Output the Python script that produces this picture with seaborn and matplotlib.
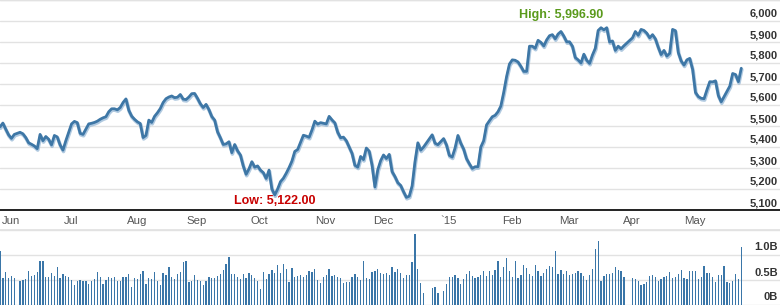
import numpy as np
import pandas as pd
import matplotlib
matplotlib.use("Agg")
import matplotlib.pyplot as plt
import matplotlib.transforms as mtransforms
import matplotlib.patheffects as pe
import seaborn as sns

# ---------------- data ----------------
start_date = "2014-05-30"
n_slots = 260
closed_slots = [6, 149, 150, 154, 219, 220]   # market holidays (no trade)

close = [5496, 5514, 5485, 5458, 5441, 5460, None, 5470, 5463, 5445,
         5420, 5413, 5405, 5392, 5460, 5430, 5450, 5437, 5410, 5455,
         5448, 5410, 5385, 5430, 5470, 5510, 5522, 5516, 5465, 5460,
         5485, 5510, 5513, 5517, 5523, 5532, 5539, 5544, 5568, 5582,
         5582, 5577, 5588, 5612, 5629, 5575, 5547, 5532, 5520, 5512,
         5445, 5455, 5528, 5517, 5546, 5563, 5583, 5612, 5630, 5638,
         5643, 5635, 5637, 5650, 5628, 5626, 5638, 5654, 5655, 5632,
         5606, 5588, 5603, 5578, 5545, 5528, 5473, 5444, 5412, 5415,
         5425, 5373, 5412, 5382, 5362, 5310, 5270, 5296, 5330, 5304,
         5310, 5290, 5278, 5250, 5290, 5200, 5172, 5200, 5235, 5251,
         5275, 5302, 5333, 5379, 5388, 5422, 5456, 5452, 5446, 5481,
         5523, 5509, 5516, 5513, 5510, 5546, 5529, 5515, 5470, 5444,
         5447, 5430, 5400, 5370, 5313, 5304, 5355, 5340, 5395, 5380,
         5314, 5210, 5292, 5335, 5362, 5345, 5365, 5283, 5259, 5230,
         5217, 5187, 5160, 5166, 5215, 5330, 5420, 5385, 5400, None,
         None, 5458, 5418, 5411, None, 5440, 5410, 5360, 5352, 5395,
         5455, 5418, 5390, 5345, 5320, 5298, 5306, 5306, 5400, 5430,
         5505, 5525, 5544, 5551, 5568, 5595, 5660, 5735, 5795, 5815,
         5813, 5805, 5784, 5760, 5760, 5880, 5880, 5870, 5908, 5898,
         5881, 5910, 5930, 5935, 5915, 5938, 5950, 5928, 5901, 5901,
         5880, 5826, 5815, 5800, 5842, 5813, 5798, 5838, 5870, 5955,
         5968, 5958, 5968, 5900, 5905, 5860, 5880, 5868, 5882, None,
         None, 5920, 5950, 5932, 5960, 5955, 5942, 5920, 5935, 5915,
         5875, 5840, 5860, 5833, 5846, 5960, 5954, 5850, 5810, 5790,
         5815, 5822, 5770, 5660, 5640, 5632, 5630, 5672, 5711, 5710,
         5715, 5645, 5615, 5640, 5665, 5690, 5750, 5745, 5711, 5775]

volume_b = [1.07, 0.54, 0.66, 0.54, 0.58, 0.54, None, 0.48, 0.50, 0.52,
            0.68, 0.58, 0.60, 0.66, 0.88, 0.88, 0.56, 0.56, 0.64, 0.58,
            0.76, 0.54, 0.62, 0.58, 0.56, 0.50, 0.40, 0.48, 0.50, 0.48,
            0.48, 0.42, 0.48, 0.52, 0.66, 0.56, 0.42, 0.50, 0.56, 0.54,
            0.56, 0.48, 0.48, 0.56, 0.56, 0.62, 0.36, 0.54, 0.52, 0.62,
            0.68, 0.42, 0.54, 0.52, 0.66, 0.48, 0.40, 0.64, 0.60, 0.76,
            0.56, 0.52, 0.62, 0.66, 0.86, 0.88, 0.46, 0.48, 0.60, 0.50,
            0.48, 0.40, 0.48, 0.56, 0.54, 0.54, 0.58, 0.62, 0.70, 0.82,
            0.96, 0.62, 0.62, 0.56, 0.52, 0.62, 0.54, 0.64, 0.60, 0.54,
            0.48, 0.32, 0.66, 0.52, 0.62, 0.70, 0.64, 0.80, 0.64, 0.82,
            0.72, 0.46, 0.74, 0.56, 0.58, 0.60, 0.56, 0.60, 0.68, 0.66,
            0.72, 0.50, 0.44, 0.56, 0.60, 0.72, 0.58, 0.60, 0.56, 0.54,
            0.44, 0.46, 0.46, 0.56, 0.62, 0.56, 0.50, 0.88, 0.54, 0.52,
            0.66, 0.68, 0.72, 0.64, 0.62, 0.64, 0.60, 0.76, 0.66, 0.72,
            0.64, 0.54, 0.60, 0.60, 0.86, 1.42, 0.72, 0.44, 0.24, None,
            None, 0.34, 0.36, 0.24, None, 0.28, 0.42, 0.56, 0.56, 0.60,
            0.54, 0.42, 0.52, 0.62, 0.68, 0.58, 0.54, 0.56, 0.60, 0.68,
            0.58, 0.68, 0.60, 0.70, 0.88, 0.56, 0.76, 0.94, 0.68, 0.56,
            0.88, 0.54, 0.60, 0.80, 0.74, 0.62, 0.58, 0.80, 0.68, 0.58,
            0.64, 0.72, 0.78, 0.76, 1.08, 0.62, 0.70, 0.62, 0.68, 0.60,
            0.62, 0.64, 0.68, 0.64, 0.58, 0.50, 0.60, 0.72, 1.12, 1.28,
            0.48, 0.58, 0.62, 0.62, 0.64, 0.76, 0.70, 0.68, 0.56, None,
            None, 0.54, 0.52, 0.48, 0.40, 0.42, 0.46, 0.58, 0.60, 0.56,
            0.48, 0.52, 0.56, 0.58, 0.66, 0.54, 0.56, 0.62, 0.70, 0.54,
            0.52, 0.68, 0.68, 0.68, 0.52, 0.56, 0.78, 0.64, 0.64, 0.56,
            0.46, 0.60, 0.60, 0.78, 0.46, 0.44, 0.48, 0.62, 0.52, 1.16]

price_ticks = [5100, 5200, 5300, 5400, 5500, 5600, 5700, 5800, 5900, 6000]
volume_ticks = [0.0, 0.5, 1.0]
volume_tick_labels = ["0B", "0.5B", "1.0B"]
month_labels = ["Jun", "Jul", "Aug", "Sep", "Oct", "Nov", "Dec", "`15",
                "Feb", "Mar", "Apr", "May"]
high_value = 5996.90
low_value = 5122.00
high_slot = 196
low_slot = 96

# ---------------- frame ----------------
dates = pd.bdate_range(start_date, periods=n_slots)
df = pd.DataFrame({"slot": np.arange(n_slots), "date": dates,
                   "close": pd.array(close, dtype="Float64").astype(float),
                   "volume": pd.array(volume_b, dtype="Float64").astype(float)})
trade = df.dropna(subset=["close"])

# first slot of each month (Jun 2014 .. May 2015)
month_first = df.groupby(df["date"].dt.to_period("M"))["slot"].min()
month_first = month_first[month_first.index >= pd.Period("2014-06", "M")].values

sns.set_theme(style="white")
plt.rcParams["font.family"] = ["Liberation Sans", "DejaVu Sans"]

LINE = "#3e77a6"
GRID = "#e2e2e2"
TXT = "#333333"

fig = plt.figure(figsize=(7.8, 3.05), dpi=100)
H = 305.0
ax = fig.add_axes([0, (H - 210) / H, 1, 210 / H])
axv = fig.add_axes([0, 0.5 / H, 1, 75 / H])

px_per_slot = 2.862
xmax = 780 / px_per_slot

# price line
sns.lineplot(data=trade, x="slot", y="close", ax=ax, color=LINE, lw=2.0,
             path_effects=[pe.SimpleLineShadow(offset=(0.4, -1.0), shadow_color="#8fb3d3",
                                               alpha=0.7, linewidth=2.6),
                           pe.Normal()])
ax.set_xlim(0, xmax)
ax.set_ylim(5100, 6100)
ax.set_xlabel("")
ax.set_ylabel("")
ax.set_xticks([])
ax.set_yticks(price_ticks + [6100])
ax.set_yticklabels([])
ax.tick_params(left=False, right=False, length=0)
ax.grid(axis="y", color=GRID, lw=1.0)
ax.set_axisbelow(True)
for s in ["left", "right"]:
    ax.spines[s].set_visible(False)
ax.spines["top"].set_color(GRID)
ax.spines["top"].set_linewidth(1.0)
ax.spines["bottom"].set_color("#111111")
ax.spines["bottom"].set_linewidth(1.3)

ytrans = mtransforms.blended_transform_factory(ax.transAxes, ax.transData)
up7 = mtransforms.ScaledTranslation(-2 / 100, 7 / 100, fig.dpi_scale_trans)
for v in price_ticks:
    ax.text(1.0, v, f"{v:,}", transform=ytrans + up7, ha="right", va="center",
            fontsize=8.0, fontweight="bold", color=TXT)

# month labels
xtrans = mtransforms.blended_transform_factory(ax.transData, ax.transAxes)
moff = mtransforms.ScaledTranslation(8 / 100, -11 / 100, fig.dpi_scale_trans)
for s, lab in zip(month_first, month_labels):
    ax.text(s, 0, lab, transform=xtrans + moff, ha="center", va="center",
            fontsize=8.2, color="#555555", clip_on=False)

# high / low labels
ax.annotate(f"High: {high_value:,.2f}", xy=(high_slot, high_value), xytext=(0, 7),
            textcoords="offset pixels", ha="center", va="center",
            fontsize=9, fontweight="bold", color="#5a9a1c")
ax.annotate(f"Low: {low_value:,.2f}", xy=(low_slot, low_value), xytext=(0, 4),
            textcoords="offset pixels", ha="center", va="center",
            fontsize=9, fontweight="bold", color="#c80000")

# volume bars
vol = df.dropna(subset=["volume"])
axv.bar(vol["slot"], vol["volume"], width=0.45, color="#3a76a8", linewidth=0)
axv.set_xlim(0, xmax)
axv.set_ylim(0, 1.5)
axv.set_xticks([])
axv.set_yticks(volume_ticks + [1.5])
axv.set_yticklabels([])
axv.tick_params(left=False, right=False, length=0)
axv.grid(axis="y", color=GRID, lw=1.0)
axv.set_axisbelow(True)
for s in ["left", "right", "bottom"]:
    axv.spines[s].set_visible(False)
axv.spines["top"].set_color(GRID)
axv.set_facecolor("none")

vtrans = mtransforms.blended_transform_factory(axv.transAxes, axv.transData)
for v, lab in zip(volume_ticks, volume_tick_labels):
    axv.text(1.0, v, lab, transform=vtrans + up7, ha="right", va="center",
             fontsize=8.0, fontweight="bold", color=TXT)

fig.savefig("out.png", dpi=100)
